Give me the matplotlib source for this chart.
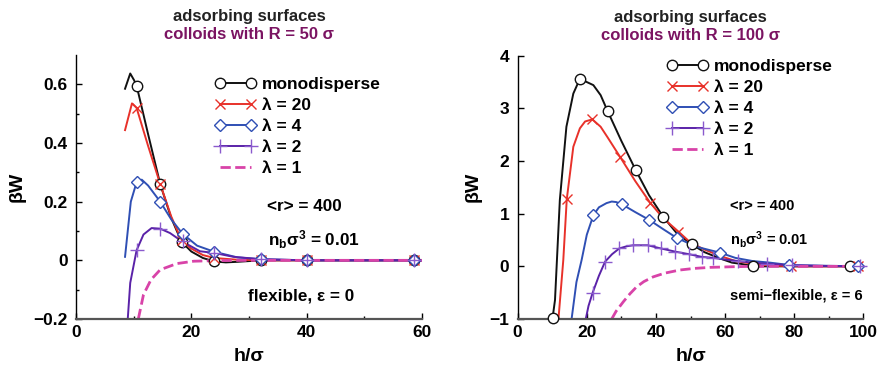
import numpy as np
import matplotlib
matplotlib.use("Agg")
import matplotlib.pyplot as plt
from matplotlib.lines import Line2D

plt.rcParams["font.family"] = ["Liberation Sans", "DejaVu Sans"]
plt.rcParams["font.weight"] = "bold"
plt.rcParams["mathtext.fontset"] = "custom"
plt.rcParams["mathtext.rm"] = "Liberation Sans:bold"
plt.rcParams["mathtext.bf"] = "Liberation Sans:bold"
plt.rcParams["mathtext.it"] = "Liberation Sans:bold"

# ---- left panel (R = 50 sigma, flexible) ----
L_mono_x = [8.5, 9.4, 10.07, 10.5, 12.5, 14.6, 16.5, 18.3, 20, 22, 24, 26, 28, 32, 40, 58.6, 60]
L_mono_y = [0.585, 0.637, 0.614, 0.596, 0.43, 0.26, 0.145, 0.063, 0.03, 0.008, -0.004, -0.007, -0.005, 0, 0, 0, 0]
L_mono_mx = [10.5, 14.6, 18.3, 24, 32, 40, 58.6]
L_mono_my = [0.593, 0.26, 0.063, -0.003, 0, 0, 0]

L_l20_x = [8.5, 9.7, 10.5, 12.5, 14.6, 16.5, 18.3, 20, 22, 24, 28, 32, 60]
L_l20_y = [0.444, 0.535, 0.52, 0.39, 0.26, 0.15, 0.068, 0.04, 0.018, 0.008, 0.002, 0, 0]
L_l20_mx = [10.5, 14.6, 18.3, 24, 32, 40, 58.6]
L_l20_my = [0.52, 0.26, 0.068, 0.008, 0, 0, 0]

L_l4_x = [8.5, 9.5, 10.5, 11.4, 12.5, 14.6, 16.5, 18.5, 21, 24, 28, 32, 40, 60]
L_l4_y = [0.012, 0.2, 0.266, 0.275, 0.255, 0.2, 0.14, 0.09, 0.05, 0.029, 0.01, 0.004, 0, 0]
L_l4_mx = [10.5, 14.6, 18.5, 24, 32, 40, 58.6]
L_l4_my = [0.266, 0.2, 0.09, 0.029, 0.004, 0, 0]

L_l2_x = [8.97, 9.4, 10.5, 11.7, 13.1, 14.6, 16.3, 18.35, 21.5, 24, 27.3, 32, 40, 60]
L_l2_y = [-0.2, -0.077, 0.034, 0.088, 0.11, 0.108, 0.093, 0.065, 0.031, 0.025, 0.012, 0.004, 0, 0]
L_l2_mx = [10.5, 14.6, 18.5, 24, 32, 40, 58.6]
L_l2_my = [0.034, 0.108, 0.065, 0.025, 0.004, 0, 0]

L_l1_x = [10.8, 11.7, 13, 14.6, 17.5, 20.4, 24, 30, 60]
L_l1_y = [-0.2, -0.117, -0.066, -0.032, -0.011, -0.003, -0.001, 0, 0]

# ---- right panel (R = 100 sigma, semi-flexible) ----
R_mono_x = [10.1, 10.8, 12.2, 14.1, 16.1, 18.0, 21.9, 24, 26.0, 30, 34.2, 38, 42.1, 46, 50.3, 54, 58.5, 62, 65.3, 68.2, 80, 96, 100]
R_mono_y = [-0.98, -0.64, 1.26, 2.65, 3.28, 3.56, 3.44, 3.25, 2.95, 2.38, 1.82, 1.35, 0.94, 0.63, 0.42, 0.27, 0.15, 0.07, 0.04, 0.0, 0, 0, 0]
R_mono_mx = [10.1, 18.0, 26.0, 34.2, 42.1, 50.3, 68.2, 96]
R_mono_my = [-0.98, 3.56, 2.95, 1.82, 0.94, 0.42, 0.0, 0]

R_l20_x = [11.8, 13.2, 14.2, 16.1, 18, 19.5, 21.6, 24, 26, 29.6, 34, 38.3, 42, 46.5, 50, 54, 58.5, 63, 68, 72, 79, 98.5, 100]
R_l20_y = [-1, 0.12, 1.27, 2.27, 2.62, 2.75, 2.79, 2.65, 2.45, 2.08, 1.62, 1.21, 0.92, 0.66, 0.45, 0.32, 0.2, 0.1, 0.05, 0.02, 0.0, 0, 0]
R_l20_mx = [14.2, 21.6, 29.6, 38.3, 46.5, 79, 98.5]
R_l20_my = [1.27, 2.79, 2.08, 1.21, 0.66, 0.0, 0]

R_l4_x = [15.6, 17, 18.5, 20, 21.9, 23.5, 25.7, 27.2, 28.5, 30.1, 34, 38.1, 42, 46, 51.8, 58.5, 63, 68, 73, 78.6, 90, 98.5, 100]
R_l4_y = [-1, -0.3, 0.12, 0.6, 0.97, 1.12, 1.2, 1.23, 1.22, 1.18, 1.03, 0.88, 0.71, 0.54, 0.37, 0.26, 0.16, 0.1, 0.07, 0.025, 0.01, 0, 0]
R_l4_mx = [21.9, 30.1, 38.1, 46, 58.5, 78.6, 98.5]
R_l4_my = [0.97, 1.18, 0.88, 0.54, 0.26, 0.025, 0]

R_l2_x = [19.7, 20.5, 21.7, 23.5, 25.3, 27.3, 29.4, 31.5, 33.4, 35.5, 37.6, 41.4, 45.5, 49.6, 53.2, 56.6, 60, 63.8, 68, 72, 79.3, 90, 99, 100]
R_l2_y = [-1, -0.75, -0.5, -0.18, 0.09, 0.23, 0.34, 0.38, 0.4, 0.4, 0.4, 0.34, 0.28, 0.23, 0.18, 0.16, 0.13, 0.1, 0.07, 0.05, 0.02, 0.005, 0, 0]
R_l2_mx = [21.7, 25.3, 29.4, 33.4, 37.6, 41.4, 45.5, 49.6, 53.2, 56.6, 63.8, 72, 79.3, 99]
R_l2_my = [-0.5, 0.09, 0.34, 0.4, 0.4, 0.34, 0.28, 0.23, 0.18, 0.16, 0.1, 0.05, 0.02, 0]

R_l1_x = [27.2, 28.5, 30.6, 32.5, 34.4, 36.5, 39.2, 42.5, 46.9, 51, 55.6, 62, 68, 100]
R_l1_y = [-1, -0.85, -0.67, -0.52, -0.39, -0.29, -0.2, -0.13, -0.07, -0.04, -0.02, -0.008, 0, 0]

labels = ["monodisperse", "λ = 20", "λ = 4", "λ = 2", "λ = 1"]

BLACK = "#111111"
RED = "#e8312a"
BLUE = "#2f4fb4"
PURPLE = "#5a22a8"
PURPLE_M = "#8a5acd"
MAGENTA = "#d843a8"
TITLE2 = "#7b1462"

styles = [
    dict(color=BLACK, marker="o", ms=7.5, mfc="white", mec=BLACK, mew=1.0),
    dict(color=RED, marker="x", ms=7.5, mec=RED, mew=1.0),
    dict(color=BLUE, marker="D", ms=6, mfc="white", mec=BLUE, mew=1.0),
    dict(color=PURPLE, marker="+", ms=10, mec=PURPLE_M, mew=1.0),
    dict(color=MAGENTA, marker=None, ls="--", lw=2.0),
]


def draw_panel(ax, lines, marks, xlim, ylim, xticks, yticks, yminor, xminor,
               title2, notes, leg_anchor):
    for (x, y), st in zip(lines, styles):
        ls = st.get("ls", "-")
        lw = st.get("lw", 1.4)
        ax.plot(x, y, color=st["color"], ls=ls, lw=lw, zorder=2)
    for (mx, my), st in zip(marks, styles[:4]):
        kw = {k: v for k, v in st.items() if k not in ("color", "ls", "lw")}
        ax.plot(mx, my, ls="none", clip_on=False, zorder=3, **kw)

    ax.set_xlim(*xlim)
    ax.set_ylim(*ylim)
    ax.set_xticks(xticks)
    ax.set_yticks(yticks)
    ax.set_xticks(xminor, minor=True)
    ax.set_yticks(yminor, minor=True)
    ax.tick_params(which="both", direction="in", labelsize=12.5, width=1.0)
    ax.tick_params(which="major", length=4)
    ax.tick_params(which="minor", length=2.5)
    ax.tick_params(axis="y", pad=6)
    ax.tick_params(axis="x", pad=4)
    for s in ("top", "right"):
        ax.spines[s].set_visible(False)
    ax.spines["left"].set_linewidth(1.0)
    ax.spines["bottom"].set_color("#555555")
    ax.spines["bottom"].set_linewidth(1.6)

    ax.set_xlabel("h/σ", fontsize=14, fontweight="bold")
    ax.set_ylabel("βW", fontsize=14, fontweight="bold")
    ax.xaxis.set_label_coords(0.5, -0.11)

    ax.text(0.5, 1.145, "adsorbing surfaces", transform=ax.transAxes,
            ha="center", va="center", fontsize=12, fontweight="bold", color="#222222")
    ax.text(0.5, 1.078, title2, transform=ax.transAxes,
            ha="center", va="center", fontsize=12, fontweight="bold", color=TITLE2)

    for (tx, ty, s, fs) in notes:
        ax.text(tx, ty, s, ha="left", va="center", fontsize=fs, fontweight="bold")

    handles = []
    for st in styles:
        kw = {k: v for k, v in st.items() if k not in ("ls", "lw")}
        handles.append(Line2D([], [], ls=st.get("ls", "-"), lw=st.get("lw", 1.4), **kw))
    ax.legend(handles, labels, loc="upper left", bbox_to_anchor=leg_anchor,
              frameon=False, numpoints=2, handlelength=2.4, handletextpad=0.35,
              borderpad=0, borderaxespad=0, labelspacing=0.33,
              prop=dict(size=12.5, weight="bold"))


fig = plt.figure(figsize=(8.78, 3.66), dpi=100)
ax1 = fig.add_axes([0.0866, 0.1284, 0.394, 0.7213])
ax2 = fig.add_axes([0.5896, 0.1284, 0.3937, 0.7196])

draw_panel(
    ax1,
    [(L_mono_x, L_mono_y), (L_l20_x, L_l20_y), (L_l4_x, L_l4_y), (L_l2_x, L_l2_y), (L_l1_x, L_l1_y)],
    [(L_mono_mx, L_mono_my), (L_l20_mx, L_l20_my), (L_l4_mx, L_l4_my), (L_l2_mx, L_l2_my)],
    (0, 60), (-0.2, 0.7), [0, 20, 40, 60], [-0.2, 0, 0.2, 0.4, 0.6],
    [-0.1, 0.1, 0.3, 0.5], [10, 30, 50],
    "colloids with R = 50 σ",
    [(33.2, 0.183, "<r> = 400", 12.3),
     (33.3, 0.07, r"n$_{\rm b}$σ$^{\rm 3}$ = 0.01", 12.3),
     (29.9, -0.12, "flexible, ε = 0", 12.3)],
    (0.40, 0.917),
)
ax1.set_yticklabels(["−0.2", "0", "0.2", "0.4", "0.6"])
ax1.yaxis.set_label_coords(-0.147, 0.5)

draw_panel(
    ax2,
    [(R_mono_x, R_mono_y), (R_l20_x, R_l20_y), (R_l4_x, R_l4_y), (R_l2_x, R_l2_y), (R_l1_x, R_l1_y)],
    [(R_mono_mx, R_mono_my), (R_l20_mx, R_l20_my), (R_l4_mx, R_l4_my), (R_l2_mx, R_l2_my)],
    (0, 100), (-1, 4), [0, 20, 40, 60, 80, 100], [-1, 0, 1, 2, 3, 4],
    [], [10, 30, 50, 70, 90],
    "colloids with R = 100 σ",
    [(61.4, 1.14, "<r> = 400", 10.5),
     (61.4, 0.50, r"n$_{\rm b}$σ$^{\rm 3}$ = 0.01", 10.5),
     (61.4, -0.56, "semi−flexible, ε = 6", 10.5)],
    (0.43, 0.987),
)
ax2.set_yticklabels(["−1", "0", "1", "2", "3", "4"])
ax2.yaxis.set_label_coords(-0.103, 0.5)

fig.savefig("out.png", dpi=100)
